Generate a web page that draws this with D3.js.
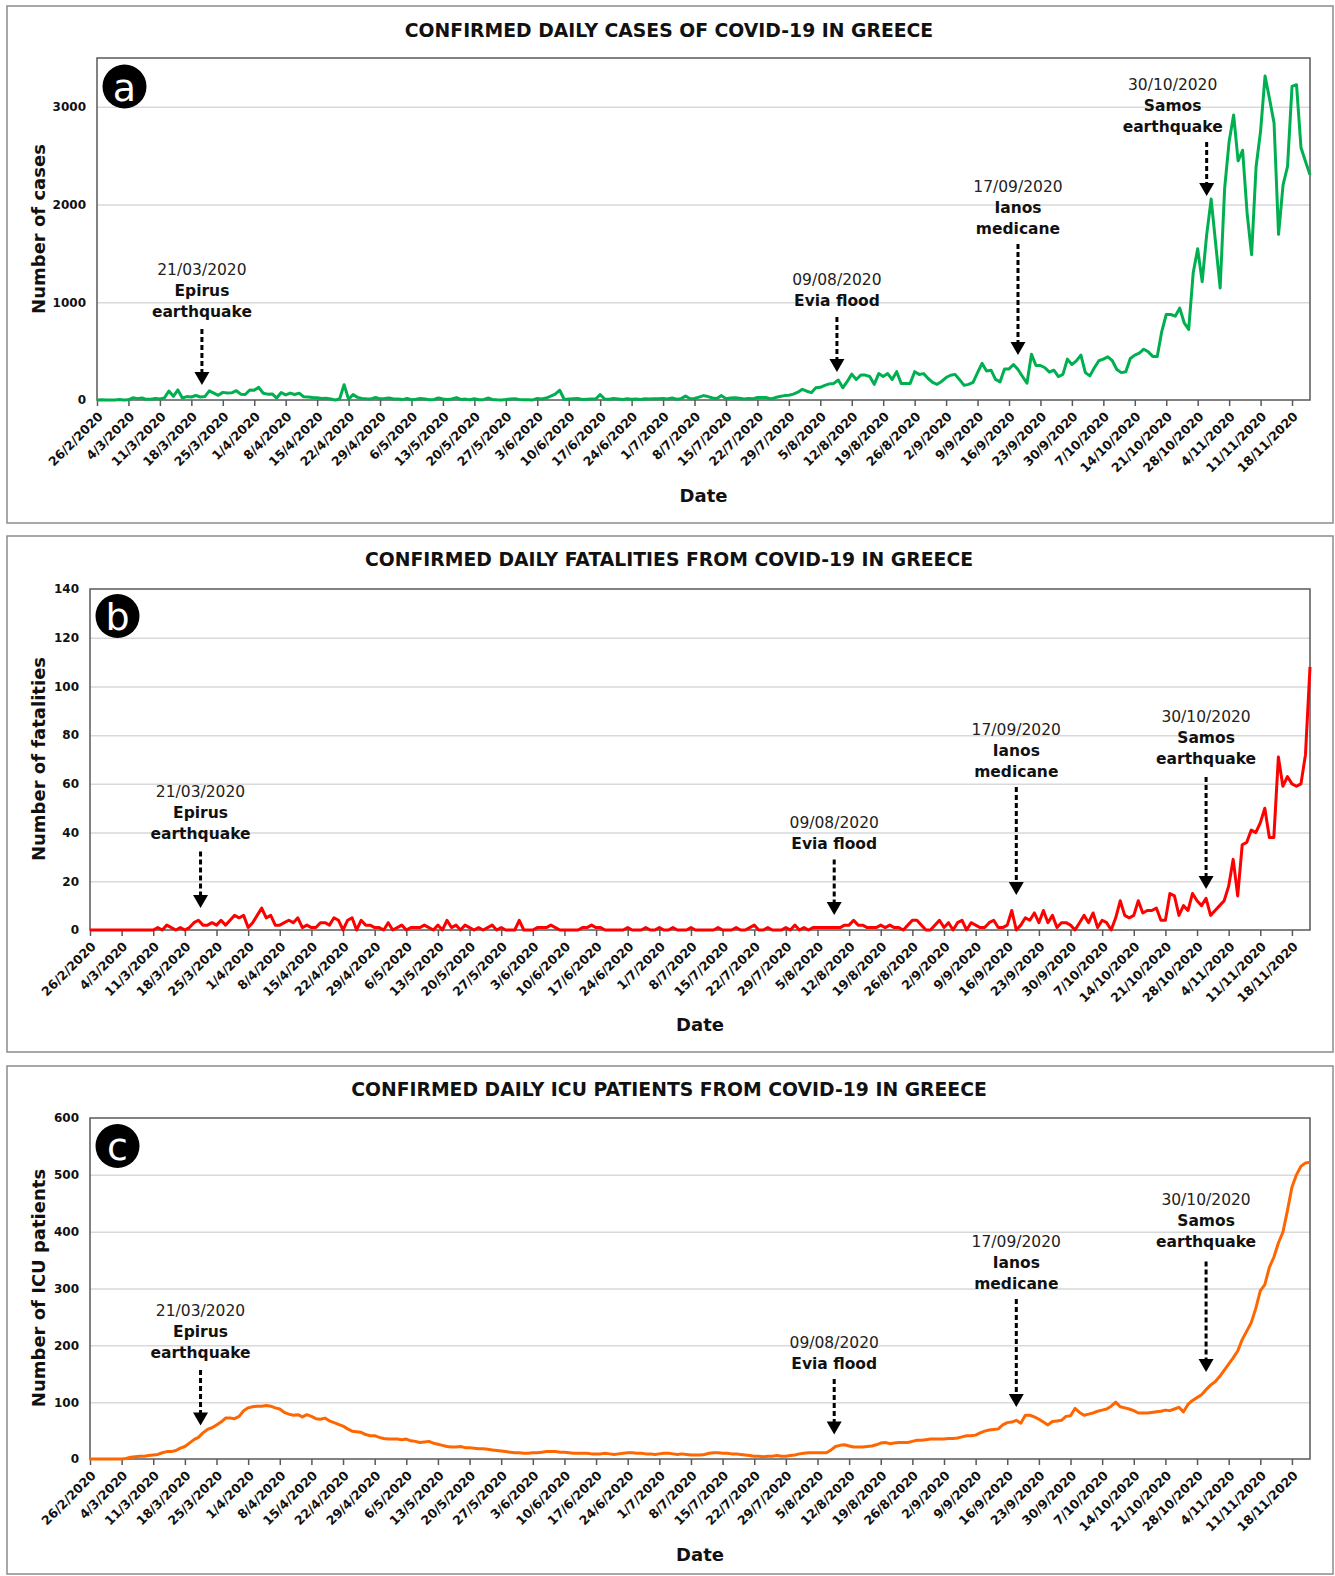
<!DOCTYPE html>
<html>
<head>
<meta charset="utf-8">
<script src="https://cdn.jsdelivr.net/npm/d3@7"></script>
<style>
  html,body{margin:0;padding:0;background:#fff;}
  svg{display:block;font-family:"DejaVu Sans",Verdana,sans-serif;}
</style>
</head>
<body>
<div id="chart"></div>
<script>
// COVID-19 in Greece, daily cases / fatalities / ICU patients, 26/2/2020 → 22/11/2020 (one value per day)
const CASES = [
  1,2,0,0,0,4,0,2,22,14,
  21,7,7,16,10,20,92,38,103,21,
  35,31,46,31,35,94,71,48,78,71,
  74,95,60,56,102,101,129,69,60,62,
  20,77,52,71,56,70,33,31,25,22,
  15,17,11,0,10,156,7,55,27,16,
  12,11,25,12,15,20,10,10,4,15,
  3,7,15,10,2,5,20,10,5,10,
  25,6,9,2,13,2,3,20,5,2,
  1,5,11,14,5,2,2,1,16,10,
  20,40,60,100,5,10,12,15,5,8,
  10,10,55,10,8,15,10,5,12,8,
  10,6,12,10,14,12,16,10,20,8,
  14,40,12,15,30,45,35,20,15,45,
  12,20,22,18,10,15,12,25,26,25,
  10,25,36,45,48,60,80,110,90,75,
  125,130,150,165,170,205,125,190,265,210,
  255,255,240,160,270,240,270,210,290,170,
  170,170,290,262,270,220,180,160,190,230,
  253,262,208,150,160,180,280,375,296,305,
  211,185,318,318,363,312,240,171,469,353,
  353,330,285,305,240,262,418,363,400,459,
  280,247,330,402,418,442,402,312,280,290,
  425,459,480,520,493,446,446,700,875,875,
  858,940,790,722,1302,1547,1211,1690,2056,1600,
  1147,2166,2646,2917,2448,2556,1914,1487,2387,2752,
  3316,3080,2835,1695,2198,2390,3209,3227,2581,2440,
  2305
];
const FATALITIES = [
  0,0,0,0,0,0,0,0,0,0,
  0,0,0,0,0,1,0,2,1,0,
  1,0,1,3,4,2,2,3,2,4,
  2,4,6,5,6,1,3,6,9,5,
  6,2,2,3,4,3,5,1,2,1,
  1,3,3,2,5,4,0,4,5,0,
  4,2,2,1,1,0,3,0,1,2,
  0,1,1,1,2,1,0,2,0,4,
  1,2,0,2,1,0,1,0,1,2,
  0,1,0,0,0,4,0,0,0,1,
  1,1,2,1,0,0,0,0,0,1,
  1,2,1,1,0,0,0,0,0,1,
  0,0,0,1,0,0,1,0,0,1,
  0,0,0,1,0,0,0,0,0,1,
  0,0,0,1,0,0,1,2,0,0,
  1,0,0,0,1,0,2,0,1,0,
  1,1,1,1,1,1,1,2,2,4,
  2,2,1,1,1,2,1,2,1,1,
  0,2,4,4,2,0,0,2,4,1,
  3,0,3,4,0,3,2,1,1,3,
  4,1,1,2,8,0,2,5,4,7,
  3,8,3,6,1,3,3,2,0,3,
  6,3,7,1,4,3,0,5,12,6,
  5,6,12,7,8,8,9,4,4,15,
  14,6,10,8,15,12,10,13,6,8,
  10,12,18,29,14,35,36,41,40,44,
  50,38,38,71,59,63,60,59,60,72,
  108
];
const ICU = [
  0,0,0,0,0,0,0,0,1,3,
  4,5,5,6,7,8,11,13,13,15,
  19,22,28,34,38,46,52,55,60,65,
  72,72,71,75,85,90,92,93,93,94,
  93,90,88,82,79,77,78,74,78,75,
  71,70,72,67,64,61,58,53,49,48,
  47,43,41,41,38,36,35,35,35,34,
  35,32,31,29,30,31,28,26,24,22,
  21,21,22,20,20,19,18,18,17,16,
  15,14,13,12,11,11,10,10,11,11,
  12,13,13,13,12,12,11,10,10,10,
  10,9,9,9,10,9,8,9,10,11,
  11,10,10,9,9,8,9,10,10,9,
  8,9,8,7,7,7,8,10,11,11,
  10,10,9,9,8,7,6,5,5,4,
  5,5,6,5,5,6,7,9,10,11,
  11,11,11,11,16,22,24,25,23,21,
  21,21,22,23,25,28,29,27,28,29,
  29,29,31,33,33,34,35,35,35,35,
  36,36,37,39,41,41,42,46,49,51,
  52,53,60,64,65,68,63,77,77,74,
  70,65,60,66,67,68,75,76,89,82,
  77,79,81,84,86,88,93,100,92,90,
  88,85,81,81,81,82,83,84,86,85,
  88,91,83,96,103,108,113,122,130,136,
  145,156,167,178,190,210,225,240,265,296,
  307,337,355,380,399,437,478,500,515,521,
  522
];
const TICK_LABELS = ['26/2/2020','4/3/2020','11/3/2020','18/3/2020','25/3/2020','1/4/2020','8/4/2020',
  '15/4/2020','22/4/2020','29/4/2020','6/5/2020','13/5/2020','20/5/2020','27/5/2020','3/6/2020',
  '10/6/2020','17/6/2020','24/6/2020','1/7/2020','8/7/2020','15/7/2020','22/7/2020','29/7/2020',
  '5/8/2020','12/8/2020','19/8/2020','26/8/2020','2/9/2020','9/9/2020','16/9/2020','23/9/2020',
  '30/9/2020','7/10/2020','14/10/2020','21/10/2020','28/10/2020','4/11/2020','11/11/2020','18/11/2020'];
const TICK_DAYS = d3.range(0, 267, 7);
// events: date text, bold name lines, day index (from 26/2) where the arrow points
const EVENTS = [
  {date:'21/03/2020', name:['Epirus','earthquake'], day:23.8},
  {date:'09/08/2020', name:['Evia flood'], day:164.7},
  {date:'17/09/2020', name:['Ianos','medicane'], day:205},
  {date:'30/10/2020', name:['Samos','earthquake'], day:247}
];

// layout (pixels) — [date-line y, arrow top, arrow tip, text dx] per event
const PANELS = [
  {badge:'a', title:'CONFIRMED DAILY CASES OF COVID-19 IN GREECE', ylab:'Number of cases',
   data:CASES, col:'#00b050', yMax:3500, yTicks:[0,1000,2000,3000],
   box:[7,6,1326,517], pl:{l:97,r:1310,t:58,b:400}, titleY:30, dateY:495, ylabY:229, badgeXY:[124.5,86.5],
   ann:[[269.5,329,385,-2],[279.5,317,372,0],[187,244,355,0],[84.5,142,196,-34]]},
  {badge:'b', title:'CONFIRMED DAILY FATALITIES FROM COVID-19 IN GREECE', ylab:'Number of fatalities',
   data:FATALITIES, col:'#ff0000', yMax:140, yTicks:d3.range(0,141,20),
   box:[7,536,1326,516], pl:{l:90,r:1310,t:589,b:930}, titleY:559, dateY:1024, ylabY:759, badgeXY:[117.5,616],
   ann:[[792,851.5,908,3],[823,859.5,915,0],[730,787,895,0],[717,777,889,0]]},
  {badge:'c', title:'CONFIRMED DAILY ICU PATIENTS FROM COVID-19 IN GREECE', ylab:'Number of ICU patients',
   data:ICU, col:'#ff6600', yMax:600, yTicks:d3.range(0,601,100),
   box:[7,1066,1326,508], pl:{l:90,r:1310,t:1118,b:1459}, titleY:1089, dateY:1554, ylabY:1288, badgeXY:[117.5,1146],
   ann:[[1311,1370,1425.5,3],[1343,1379,1434.5,0],[1241.5,1299,1407,0],[1200,1261.6,1372,0]]}
];

const svg = d3.select('#chart').append('svg').attr('width',1335).attr('height',1576);

PANELS.forEach(P=>drawPanel(P));

function drawPanel(P){
  const g = svg.append('g');
  const p = P.pl;
  g.append('rect').attr('x',P.box[0]).attr('y',P.box[1]).attr('width',P.box[2]).attr('height',P.box[3])
    .attr('fill','#fff').attr('stroke','#8c8c8c').attr('stroke-width',1.5);
  g.append('text').attr('x',669).attr('y',P.titleY).attr('text-anchor','middle').attr('dominant-baseline','central')
    .attr('font-size',18.8).attr('font-weight',700).attr('fill','#111').text(P.title);

  const x = d3.scaleLinear().domain([0, P.data.length-1]).range([p.l, p.r]);
  const y = d3.scaleLinear().domain([0, P.yMax]).range([p.b, p.t]);

  // gridlines
  g.append('g').attr('transform',`translate(${p.l},0)`)
    .call(d3.axisLeft(y).tickValues(P.yTicks.filter(t=>t>0 && t<P.yMax)).tickSize(-(p.r-p.l)).tickFormat(''))
    .call(a=>a.select('.domain').remove())
    .selectAll('line').attr('stroke','#d9d9d9').attr('stroke-width',1.5);

  // y tick labels
  g.append('g').attr('transform',`translate(${p.l},0)`)
    .call(d3.axisLeft(y).tickValues(P.yTicks).tickSize(0).tickPadding(11).tickFormat(d3.format('d')))
    .call(a=>a.select('.domain').remove())
    .selectAll('text').attr('font-family','"DejaVu Sans",sans-serif').attr('font-size',12).attr('font-weight',700).attr('fill','#111');

  // x axis
  const xa = g.append('g').attr('transform',`translate(0,${p.b})`)
    .call(d3.axisBottom(x).tickValues(TICK_DAYS).tickFormat((d,i)=>TICK_LABELS[i]).tickSize(6).tickSizeOuter(0));
  xa.select('.domain').remove();
  xa.selectAll('line').attr('stroke','#595959').attr('stroke-width',1.5);
  xa.selectAll('text').attr('font-family','"DejaVu Sans",sans-serif').attr('font-size',12.6).attr('font-weight',700).attr('fill','#111')
    .attr('text-anchor','end').attr('dy',null).attr('y',0)
    .attr('transform','translate(3,14) rotate(-45)').attr('dominant-baseline','central');

  // plot frame
  g.append('rect').attr('x',p.l).attr('y',p.t).attr('width',p.r-p.l).attr('height',p.b-p.t)
    .attr('fill','none').attr('stroke','#595959').attr('stroke-width',1.5);

  // series
  g.append('path').datum(P.data)
    .attr('d', d3.line().x((d,i)=>x(i)).y(d=>y(d)))
    .attr('fill','none').attr('stroke',P.col).attr('stroke-width',3).attr('stroke-linejoin','round');

  // axis titles
  g.append('text').attr('x',(p.l+p.r)/2).attr('y',P.dateY).attr('text-anchor','middle').attr('dominant-baseline','central')
    .attr('font-size',18).attr('font-weight',700).attr('fill','#111').text('Date');
  g.append('text').attr('transform',`translate(38,${P.ylabY}) rotate(-90)`).attr('text-anchor','middle').attr('dominant-baseline','central')
    .attr('font-size',18).attr('font-weight',700).attr('fill','#111').text(P.ylab);

  // badge
  g.append('circle').attr('cx',P.badgeXY[0]).attr('cy',P.badgeXY[1]).attr('r',22).attr('fill','#000');
  g.append('text').attr('x',P.badgeXY[0]).attr('y',P.badgeXY[1]+1).attr('text-anchor','middle').attr('dominant-baseline','central')
    .attr('font-size',38).attr('fill','#fff').text(P.badge);

  // event annotations
  EVENTS.forEach((ev,k)=>{
    const [ty, a1, a2, dx] = P.ann[k];
    const ax = x(ev.day) + (k===0 ? dx : 0);
    const tx = x(ev.day) + dx;
    g.append('text').attr('x',tx).attr('y',ty).attr('text-anchor','middle').attr('dominant-baseline','central')
      .attr('font-size',15.5).attr('fill','#222').text(ev.date);
    ev.name.forEach((ln,j)=>{
      g.append('text').attr('x',tx).attr('y',ty+21*(j+1)).attr('text-anchor','middle').attr('dominant-baseline','central')
        .attr('font-size',15.5).attr('font-weight',700).attr('fill','#111').text(ln);
    });
    g.append('line').attr('x1',ax).attr('x2',ax).attr('y1',a1).attr('y2',a2-12)
      .attr('stroke','#000').attr('stroke-width',3).attr('stroke-dasharray','5 3');
    g.append('path').attr('d',`M${ax-7.5},${a2-13} L${ax+7.5},${a2-13} L${ax},${a2} Z`).attr('fill','#000');
  });
}
</script>
</body>
</html>
